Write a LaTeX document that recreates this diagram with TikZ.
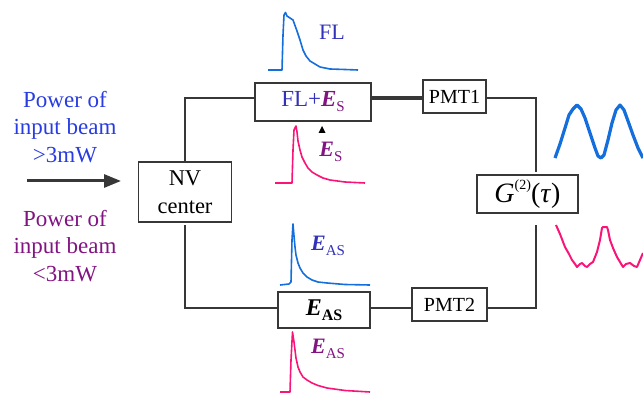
\documentclass[tikz,border=0pt]{standalone}
\usepackage{fontspec}
\newfontfamily\tms{Liberation Serif}
\usetikzlibrary{arrows.meta}
\definecolor{tblue}{RGB}{40,60,225}
\definecolor{tpurple}{RGB}{130,20,130}
\definecolor{flblue}{RGB}{50,50,185}
\definecolor{cblue}{RGB}{20,110,220}
\definecolor{cpink}{RGB}{250,20,120}
\definecolor{wire}{RGB}{55,55,55}
\newcommand{\Ebi}[1]{{\bfseries\itshape E}\raisebox{-0.22em}{\fontsize{15}{15}\selectfont #1}}
\tikzset{
  boxnode/.style={draw=wire, line width=1.8pt, fill=white, inner sep=0pt, align=center},
  wireline/.style={draw=wire, line width=1.8pt},
  curve/.style={line width=1.6pt, line join=round},
  lbl/.style={inner sep=0pt, font=\fontsize{22}{26}\selectfont\tms}
}
\begin{document}
\begin{tikzpicture}[x=1pt,y=-1pt]
\useasboundingbox (0,0) rectangle (643,393);
% wire levels
\coordinate (topy) at (0,98);
\coordinate (boty) at (0,308);
\coordinate (tr) at (536,98);
\coordinate (gtop) at (536,172);
\coordinate (br) at (536,308);
\coordinate (gbot) at (536,225);
\coordinate (nvtl) at (185,98);
\coordinate (nvbl) at (185,308);
\coordinate (nvbs) at (185,225);
% boxes
\node[boxnode, minimum width=93pt, minimum height=60pt, font=\fontsize{22.5}{28}\selectfont\tms] (nv) at (185,192) {NV\\center};
\node[boxnode, minimum width=116pt, minimum height=38pt, font=\fontsize{23}{26}\selectfont\tms] (fl) at (313,102) {\textcolor{flblue}{FL+}\textcolor{tpurple}{\Ebi{S}}};
\node[boxnode, minimum width=63pt, minimum height=33pt, font=\fontsize{20}{22}\selectfont\tms] (pmt1) at (454.5,96.5) {PMT1};
\node[boxnode, minimum width=101pt, minimum height=38pt, font=\fontsize{28}{30}\selectfont\tms] (g2) at (527.5,194) {\textit{G}\raisebox{0.45em}{\fontsize{14}{14}\selectfont(2)}(\textit{τ})};
\node[boxnode, minimum width=92pt, minimum height=36pt, font=\fontsize{24}{26}\selectfont\tms] (eas) at (324,310) {{\bfseries\itshape E}\raisebox{-0.22em}{\fontsize{16}{16}\selectfont\bfseries AS}};
\node[boxnode, minimum width=75pt, minimum height=33pt, font=\fontsize{20}{22}\selectfont\tms] (pmt2) at (449.5,304.5) {PMT2};
% wires
\draw[wireline] (nv.north) -- (nvtl) -- (fl.west |- topy);
\draw[wireline] (nvbs) -- (nvbl) -- (eas.west |- boty);
\draw[draw=wire, line width=3.2pt] (fl.east |- topy) -- (pmt1.west |- topy);
\draw[wireline] (pmt1.east |- topy) -- (tr) -- (gtop);
\draw[wireline] (eas.east |- boty) -- (pmt2.west |- boty);
\draw[wireline] (pmt2.east |- boty) -- (br) -- (gbot);
% input arrow
\coordinate (arrS) at (27,181);
\coordinate (arrE) at (121,181);
\draw[draw=wire, line width=3pt, -{Triangle[length=17pt,width=13pt]}] (arrS) -- (arrE);
% side texts
\node[lbl, font=\fontsize{23}{27.5}\selectfont\tms, text=tblue, align=center] (up) at (65,127) {Power of\\input beam\\>3mW};
\node[lbl, font=\fontsize{23}{27.5}\selectfont\tms, text=tpurple, align=center] (lo) at (65,246) {Power of\\input beam\\<3mW};
% curve labels
\node[lbl, text=flblue] (fllbl) at (332,32) {FL};
\node[lbl, text=tpurple] (eslbl) at (331,152) {\Ebi{S}};
\node[lbl, text=flblue] (eas1) at (328,246) {\Ebi{AS}};
\node[lbl, text=tpurple] (eas2) at (328,349) {\Ebi{AS}};
% small triangle marker
\fill[black] (318.5,133) -- (325.5,133) -- (322,126) -- cycle;
% FL curve
\draw[curve, cblue] plot coordinates {(268,70) (282,70) (283,35) (284,15) (285.5,12.5) (287,16) (290,18) (293,20) (297,31) (300,40) (303,50) (306,56) (310,61) (315,64) (320,67) (330,69) (345,69.5) (358,70)};
% E_S curve
\draw[curve, cpink] plot coordinates {(275,183) (292,183) (293,150) (294,130) (296,126) (297,132) (298,141) (300,150) (302,157) (305,163) (308,168) (312,172) (317,175) (323,178) (330,180) (345,182) (365,183)};
% E_AS blue
\draw[curve, cblue] plot coordinates {(280,285) (289,284) (291,282) (292,240) (293,224) (294,236) (295,247) (296,255) (298,263) (300,268) (303,273) (307,277) (312,280) (318,282) (327,283) (345,284.5) (370,285)};
% E_AS pink
\draw[curve, cpink] plot coordinates {(280,392) (290,392) (291,360) (292.5,332) (294,342) (295,350) (296,358) (298,367) (300,372) (303,377) (307,380) (312,383) (318,385.5) (327,388) (345,390.5) (370,392)};
% right oscillations
\draw[cblue, line width=3.2pt, line join=round] plot coordinates {(555,158) (560,144) (565,128) (569,115) (573,109) (577,105) (581,109) (585,118) (590,133) (595,148) (598,156) (601,158) (604,155) (608,140) (612,123) (616,110) (620,105) (624,110) (628,121) (633,135) (638,148) (643,158)};
\draw[cpink, line width=2pt, line join=round] plot coordinates {(556,225) (560,234) (565,247) (569,254) (572,260) (575,264) (577,267) (580,264) (582,263) (585,266) (587,267) (590,264) (593,262) (597,252) (600,240) (602,228) (603,227) (607,227) (608,230) (610,240) (613,248) (617,257) (620,262) (623,267) (626,264) (630,263) (634,266) (637,267) (640,260) (643,253)};
\end{tikzpicture}
\end{document}
